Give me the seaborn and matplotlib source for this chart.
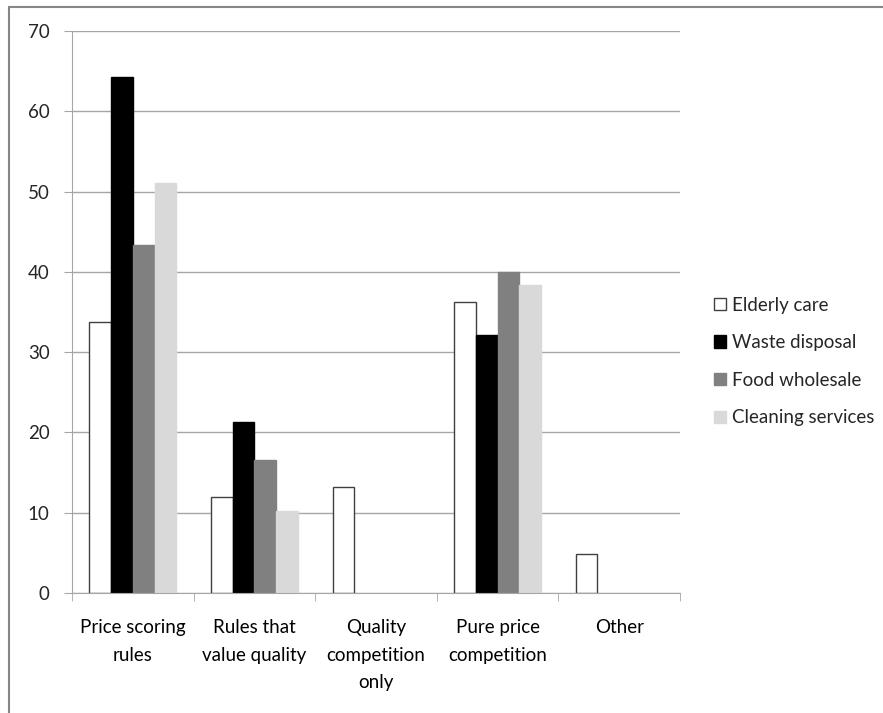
import matplotlib
matplotlib.use("Agg")
import matplotlib.pyplot as plt
import seaborn as sns
import pandas as pd
from matplotlib.lines import Line2D

categories = ["Price scoring\nrules", "Rules that\nvalue quality", "Quality\ncompetition\nonly",
              "Pure price\ncompetition", "Other"]
sectors = ["Elderly care", "Waste disposal", "Food wholesale", "Cleaning services"]
elderly_care = [33.7, 11.9, 13.2, 36.2, 4.8]
waste_disposal = [64.3, 21.3, 0, 32.1, 0]
food_wholesale = [43.3, 16.6, 0, 40.0, 0]
cleaning_services = [51.1, 10.2, 0, 38.4, 0]

rows = []
for sector, vals in zip(sectors, [elderly_care, waste_disposal, food_wholesale, cleaning_services]):
    for cat, v in zip(categories, vals):
        rows.append({"category": cat, "sector": sector, "value": v})
df = pd.DataFrame(rows)

sns.set_style("white")
plt.rcParams["font.family"] = ["Lato", "DejaVu Sans"]
fs = 13.5

fig = plt.figure(figsize=(8.83, 7.13), dpi=100)
ax = fig.add_axes([72 / 883, 1 - 593 / 713, 608 / 883, 562 / 713])

palette = {"Elderly care": "#ffffff", "Waste disposal": "#000000",
           "Food wholesale": "#808080", "Cleaning services": "#d9d9d9"}
sns.barplot(data=df, x="category", y="value", hue="sector", palette=palette,
            width=0.715, gap=0, ax=ax, legend=False, saturation=1)

edges = {"Elderly care": "#404040", "Waste disposal": "#000000",
         "Food wholesale": "#808080", "Cleaning services": "#d9d9d9"}
for container, sector in zip(ax.containers, sectors):
    for bar in container:
        bar.set_edgecolor(edges[sector])
        bar.set_linewidth(1.0)
        if bar.get_height() == 0:
            bar.set_visible(False)

ax.set_ylim(0, 70)
ax.set_xlim(-0.5, 4.5)
ax.set_yticks(range(0, 71, 10))
ax.yaxis.grid(True, color="#a6a6a6", linewidth=1.0)
ax.set_axisbelow(True)
ax.set_xlabel("")
ax.set_ylabel("")
for s in ["top", "right"]:
    ax.spines[s].set_visible(False)
ax.spines["left"].set_color("#a6a6a6")
ax.spines["bottom"].set_color("#a6a6a6")
ax.set_xticks([i - 0.5 for i in range(6)], minor=True)
ax.tick_params(axis="x", which="major", length=0, pad=19, labelsize=fs, colors="#000000")
ax.tick_params(axis="x", which="minor", length=6, color="#a6a6a6", direction="out", bottom=True)
ax.tick_params(axis="y", length=6, color="#a6a6a6", direction="out", left=True, labelsize=fs, pad=10)
for lab in ax.get_xticklabels():
    lab.set_verticalalignment("top")
    lab.set_linespacing(1.75)

handles = [plt.Rectangle((0, 0), 1, 1, facecolor=palette[s], edgecolor=edges[s], linewidth=1.0)
           for s in sectors]
fig.legend(handles, sectors, loc="upper left", bbox_to_anchor=(706 / 883, 1 - 289 / 713),
           frameon=False, fontsize=fs, handlelength=0.65, handleheight=0.65,
           handletextpad=0.35, labelspacing=1.1, borderaxespad=0)

fig.add_artist(Line2D([9 / 883, 9 / 883], [0, 1 - 7 / 713], transform=fig.transFigure,
                      color="#868686", linewidth=1.5))
fig.add_artist(Line2D([9 / 883, 1], [1 - 7 / 713, 1 - 7 / 713], transform=fig.transFigure,
                      color="#868686", linewidth=1.5))

fig.savefig("out.png", dpi=100)
